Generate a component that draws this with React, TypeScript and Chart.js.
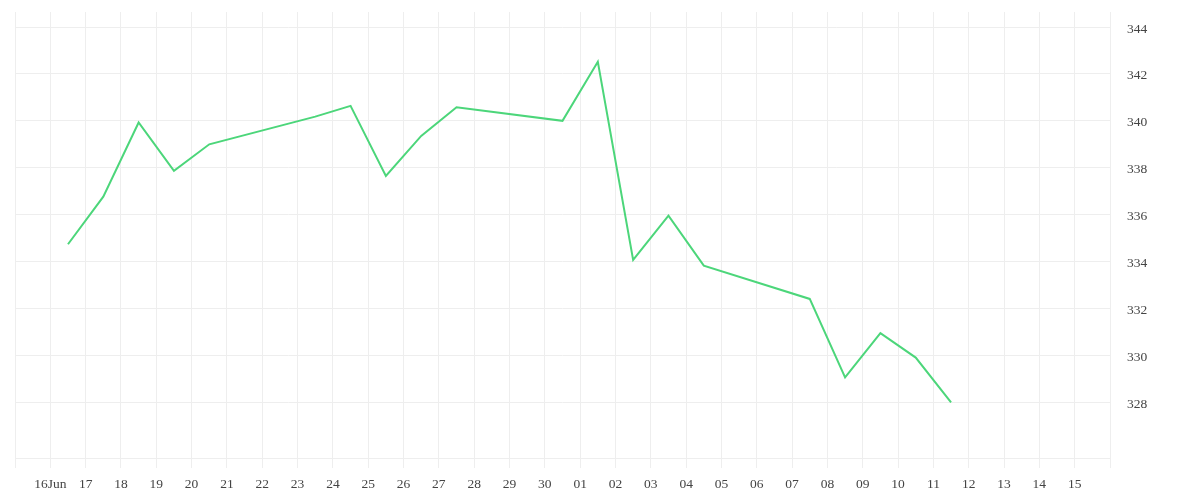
import React, { useEffect, useRef } from "react";
import { Chart, registerables } from "chart.js";

Chart.register(...registerables);

// Day offsets from 15 Jun (session midpoints fall half a day after each date tick)
const sessionDays = [1, 2, 3, 4, 5, 8, 9, 10, 11, 12, 15, 16, 17, 18, 19, 22, 23, 24, 25, 26];
const closeValues = [
  334.74, 336.77, 339.93, 337.87, 339.0, 340.18, 340.64, 337.65, 339.36, 340.58,
  340.0, 342.52, 334.07, 335.96, 333.83, 332.41, 329.07, 330.95, 329.91, 328.0,
];
// One label per day gridline, 15 Jun .. 16 Jul
const dayTickLabels = [
  "", "16Jun", "17", "18", "19", "20", "21", "22", "23", "24", "25", "26", "27", "28", "29", "30",
  "01", "02", "03", "04", "05", "06", "07", "08", "09", "10", "11", "12", "13", "14", "15", "",
];
const priceTicks = [328, 330, 332, 334, 336, 338, 340, 342, 344];
const priceMin = 325.63;
const priceMax = 344.64;

export default function App() {
  const canvasRef = useRef<HTMLCanvasElement | null>(null);

  useEffect(() => {
    if (!canvasRef.current) return;
    const points = sessionDays.map((d, i) => ({ x: d + 0.5, y: closeValues[i] }));
    const font = { family: "'Liberation Serif', serif", size: 13.5 };
    const chart = new Chart(canvasRef.current, {
      type: "line",
      data: {
        datasets: [
          {
            data: points,
            borderColor: "#4cd67a",
            borderWidth: 2,
            pointRadius: 0,
            tension: 0,
            fill: false,
          },
        ],
      },
      options: {
        animation: false,
        responsive: true,
        maintainAspectRatio: false,
        layout: { padding: { left: 7, top: 4, right: 0, bottom: 0 } },
        plugins: { legend: { display: false }, tooltip: { enabled: false } },
        scales: {
          x: {
            type: "linear",
            min: 0,
            max: dayTickLabels.length - 1,
            afterBuildTicks: (scale: any) => {
              scale.ticks = dayTickLabels.map((_, i) => ({ value: i }));
            },
            afterFit: (scale: any) => {
              scale.height = 34;
              scale.paddingLeft = 0;
              scale.paddingRight = 0;
            },
            grid: { color: "#eeeeee", tickLength: 10, drawTicks: true },
            border: { color: "#eeeeee" },
            ticks: {
              autoSkip: false,
              maxRotation: 0,
              padding: 8,
              color: "#444",
              font,
              callback: (v: any) => dayTickLabels[Math.round(Number(v))] ?? "",
            },
          },
          y: {
            type: "linear",
            position: "right",
            min: priceMin,
            max: priceMax,
            afterBuildTicks: (scale: any) => {
              scale.ticks = priceTicks.map((v) => ({ value: v }));
            },
            afterFit: (scale: any) => {
              scale.width = 82;
              scale.paddingTop = 0;
              scale.paddingBottom = 0;
            },
            grid: { color: "#eeeeee", drawTicks: false },
            border: { color: "#eeeeee" },
            ticks: {
              padding: 17,
              labelOffset: 2,
              color: "#444",
              font,
              callback: (v: any) => String(v),
            },
          },
        },
      },
    });
    return () => chart.destroy();
  }, []);

  return (
    <div style={{ width: 1184, height: 484, position: "relative" }}>
      <canvas ref={canvasRef} />
    </div>
  );
}
